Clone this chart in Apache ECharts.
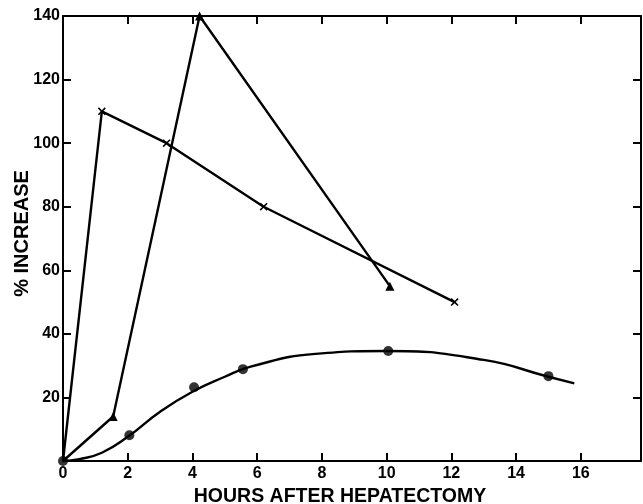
<!DOCTYPE html>
<html>
<head>
<meta charset="utf-8">
<script src="https://cdn.jsdelivr.net/npm/echarts@6/dist/echarts.min.js"></script>
<style>html,body{margin:0;padding:0;background:#fff}#c{width:643px;height:504px}</style>
</head>
<body>
<div id="c"></div>
<script>
// Series with crosses
const crossHours = [0, 1.2, 3.2, 6.2, 12.1];
const crossValues = [0, 110, 100, 80, 50];
// Series with triangles
const triHours = [0, 1.55, 4.22, 10.1];
const triValues = [0, 14, 140, 55];
// Series with dots: observed points
const dotHours = [0, 2.05, 4.05, 5.56, 10.05, 15.0];
const dotValues = [0, 8.1, 23.2, 28.9, 34.6, 26.7];
// Fitted curve through the dots
const curveHours = [0, 0.5, 1.2, 2, 3, 4, 5, 5.8, 7.8, 10, 13, 15, 15.8];
const curveValues = [0, 0.6, 2.6, 7.6, 15.5, 21.8, 26.5, 29.7, 33.7, 34.6, 31.8, 26.5, 24.4];
// Tick labels
const xTicks = [0, 2, 4, 6, 8, 10, 12, 14, 16];
const yTicks = [20, 40, 60, 80, 100, 120, 140];

const FONT = '"Liberation Sans", Arial, sans-serif';
const crossPath = 'path://M0,1.4L1.4,0L5,3.6L8.6,0L10,1.4L6.4,5L10,8.6L8.6,10L5,6.4L1.4,10L0,8.6L3.6,5Z';

const chart = echarts.init(document.getElementById('c'));
const lineStyle = {color: '#000', width: 2.4};
const baseAxis = {
  axisLine: {show: true, onZero: false, lineStyle: {color: '#000', width: 2}},
  axisTick: {show: true, inside: true, length: 8, lineStyle: {color: '#000', width: 2}},
  splitLine: {show: false}
};
chart.setOption({
  animation: false,
  backgroundColor: '#fff',
  grid: {left: 63, right: 2, top: 16, bottom: 43, containLabel: false, outerBoundsMode: 'none'},
  xAxis: [
    Object.assign({}, baseAxis, {
      type: 'value', min: 0, max: 17.86, interval: 2, position: 'bottom',
      name: 'HOURS AFTER HEPATECTOMY', nameLocation: 'middle', nameGap: 26, nameMoveOverlap: false,
      nameTextStyle: {fontFamily: FONT, fontWeight: 'bold', fontSize: 19.5, color: '#000', padding: [0, 24, 0, 0]},
      axisLabel: {
        fontFamily: FONT, fontWeight: 'bold', fontSize: 16, color: '#000', margin: 5,
        showMaxLabel: false,
        formatter: v => xTicks.indexOf(v) >= 0 ? String(v) : ''
      }
    }),
    Object.assign({}, baseAxis, {
      type: 'value', min: 0, max: 17.86, interval: 2, position: 'top',
      axisLabel: {show: false}
    })
  ],
  yAxis: [
    Object.assign({}, baseAxis, {
      type: 'value', min: 0, max: 140, interval: 20, position: 'left',
      name: '% INCREASE', nameLocation: 'middle', nameGap: 31, nameMoveOverlap: false,
      nameTextStyle: {fontFamily: FONT, fontWeight: 'bold', fontSize: 20, color: '#000', padding: [0, 0, 0, 10]},
      axisLabel: {
        fontFamily: FONT, fontWeight: 'bold', fontSize: 16, color: '#000', margin: 3,
        formatter: v => yTicks.indexOf(v) >= 0 ? String(v) : ''
      }
    }),
    Object.assign({}, baseAxis, {
      type: 'value', min: 0, max: 140, interval: 20, position: 'right',
      axisLabel: {show: false}
    })
  ],
  series: [
    {
      type: 'line', clip: false,
      data: crossHours.map((h, i) => ({value: [h, crossValues[i]], symbol: i === 0 ? 'none' : crossPath})),
      symbolSize: 8, itemStyle: {color: '#000'}, lineStyle: lineStyle
    },
    {
      type: 'line', clip: false,
      data: triHours.map((h, i) => ({value: [h, triValues[i]], symbol: i === 0 ? 'none' : 'triangle'})),
      symbolSize: 9, itemStyle: {color: '#000'}, lineStyle: lineStyle
    },
    {
      type: 'line', clip: false, smooth: 0.5, showSymbol: false, symbol: 'none',
      data: curveHours.map((h, i) => [h, curveValues[i]]),
      lineStyle: lineStyle
    },
    {
      type: 'scatter', clip: false, symbol: 'circle', symbolSize: 10,
      data: dotHours.map((h, i) => [h, dotValues[i]]),
      itemStyle: {color: '#000'}, z: 3
    }
  ]
});
</script>
</body>
</html>
